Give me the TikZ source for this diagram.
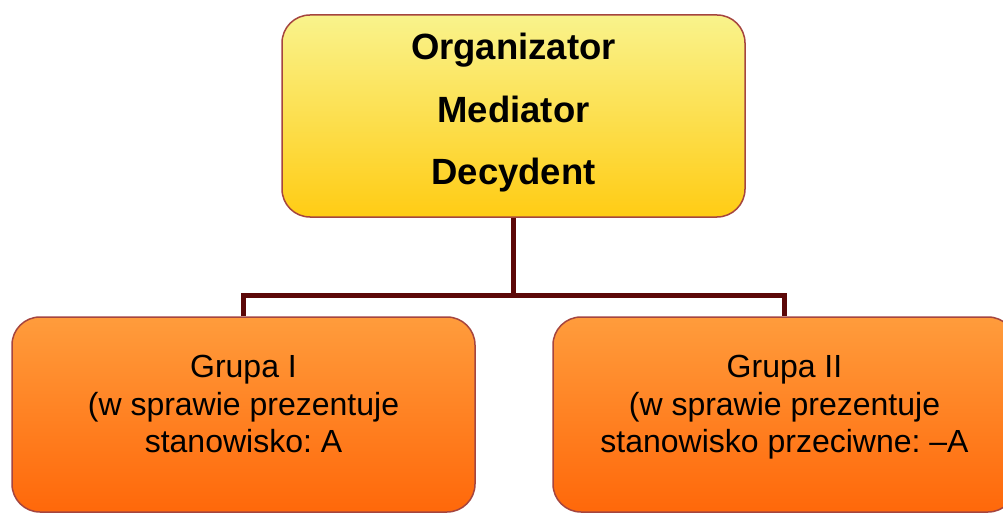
\documentclass[tikz,border=0pt]{standalone}
\usepackage{fontspec}
\setmainfont{Liberation Sans}
\frenchspacing
\definecolor{boxedge}{RGB}{165,69,63}
\definecolor{linkcol}{RGB}{92,8,8}
\definecolor{ytop}{RGB}{249,243,140}
\definecolor{ybot}{RGB}{255,204,20}
\definecolor{otop}{RGB}{255,156,60}
\definecolor{obot}{RGB}{255,104,10}
\tikzset{
  roundbox/.style={draw=boxedge, line width=1.5pt, rounded corners=28pt,
    minimum width=463pt, inner sep=0pt},
  chiefbox/.style={roundbox, minimum height=202pt, top color=ytop, bottom color=ybot},
  groupbox/.style={roundbox, minimum height=195pt, top color=otop, bottom color=obot},
  chieftext/.style={align=center, inner sep=0pt,
    font=\fontsize{36.5}{62.5}\selectfont\bfseries},
  grouptext/.style={align=center, inner sep=0pt,
    font=\fontsize{32}{37.5}\selectfont},
  link/.style={draw=linkcol, line width=5pt, line join=miter}
}
\begin{document}
\begin{tikzpicture}[x=1pt, y=-1pt]
  \useasboundingbox (0,0) rectangle (1003,513);
  \clip (0,0) rectangle (1003,513);
  \fill[white] (0,0) rectangle (1003,513);

  % boxes
  \node[chiefbox] (chief) at (513.5,116) {};
  \node[groupbox] (g1) at (243.5,414.5) {};
  \node[groupbox] (g2) at (784.5,414.5) {};

  % texts
  \node[chieftext] (chiefT) at (513.5,113) {Organizator\\Mediator\\Decydent};
  \node[grouptext] (g1T) at (243.5,404) {Grupa I\\(w sprawie prezentuje\\stanowisko: A};
  \node[grouptext] (g2T) at (784.5,407.5) {Grupa II\\(w sprawie prezentuje\\stanowisko przeciwne: –A};

  % connectors
  \coordinate (junction) at (513.5,295);
  \draw[link] (chief.south) -- (junction);
  \draw[link] (g1.north) -- (g1.north |- junction) -- (g2.north |- junction) -- (g2.north);
\end{tikzpicture}
\end{document}
